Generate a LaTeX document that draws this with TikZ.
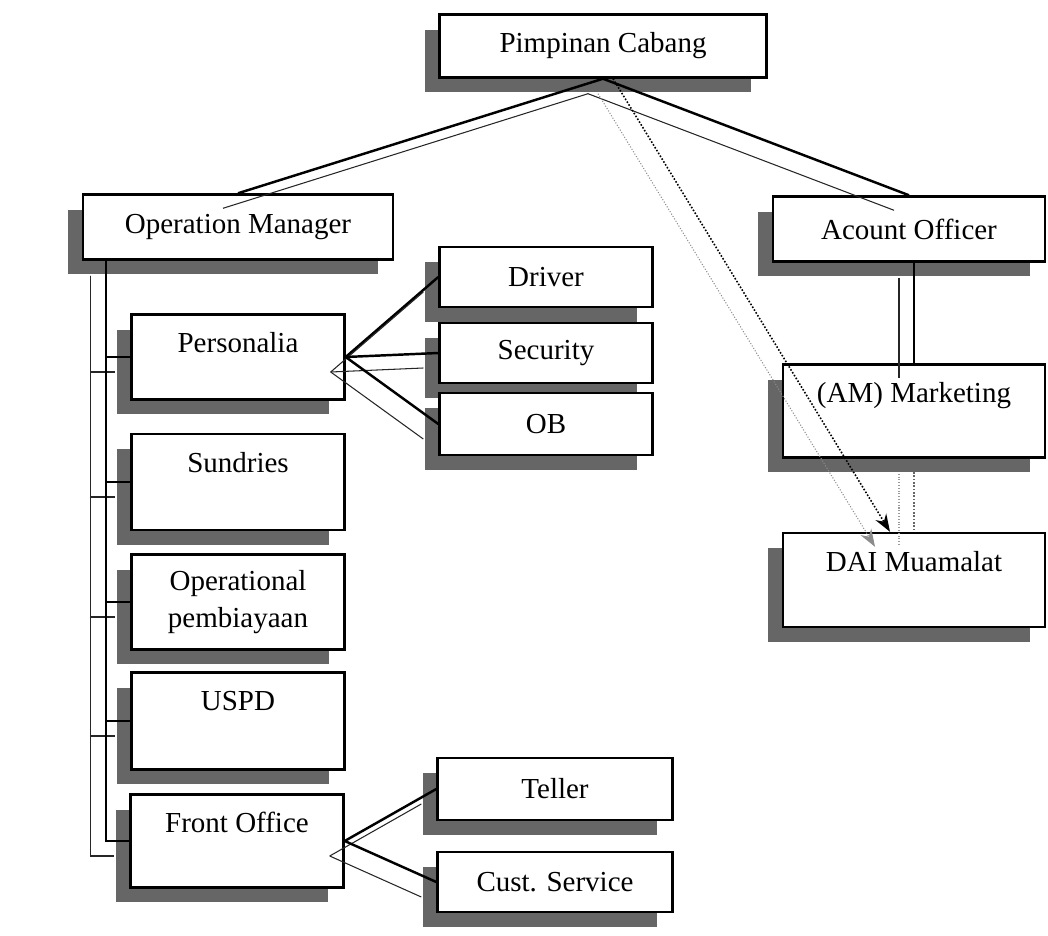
\documentclass[tikz,border=0pt]{standalone}
\usepackage{fontspec}
\setmainfont{Liberation Serif}
\usetikzlibrary{shadows, arrows.meta}
\tikzset{%
  box/.style={draw, line width=1.4pt, fill=white, inner sep=0pt, align=center,
              font=\fontsize{16.5}{21}\selectfont,
              drop shadow={shadow xshift=-0.3cm, shadow yshift=-0.3cm,
                           fill=black!60, opacity=1}},
  topbox/.style={box, text height=0.76cm, text depth=#1},
  link/.style={line width=1.4pt},
  dotlink/.style={densely dotted, line width=0.9pt},
  linkshadow/.style={black!85, line width=0.6pt,
                     transform canvas={xshift=-0.3cm, yshift=-0.3cm}},
}

\begin{document}
\begin{tikzpicture}[x=0.02cm, y=-0.02cm]
\useasboundingbox (0,0) rectangle (1048,936);

% Head of the branch
\node[box, minimum width=6.54cm, minimum height=1.26cm] (pimpinan) at (603,46) {Pimpinan Cabang};

% Second level
\node[box, minimum width=6.2cm, minimum height=1.3cm] (om) at (238,227) {Operation Manager};
\node[box, minimum width=5.44cm, minimum height=1.3cm] (ao) at (909,229) {Acount Officer};

% Units under the Operation Manager
\node[topbox=0.94cm, minimum width=4.26cm] (pers) at (238,357) {Personalia};
\node[topbox=1.16cm, minimum width=4.26cm] (sund) at (238,482) {Sundries};
\node[box, minimum width=4.26cm, minimum height=1.9cm] (oper) at (238,602) {Operational\\pembiayaan};
\node[topbox=1.18cm, minimum width=4.26cm] (uspd) at (238,721) {USPD};
\node[topbox=1.1cm, minimum width=4.26cm] (front) at (237,841) {Front Office};

% Staff of Personalia
\node[box, minimum width=4.26cm, minimum height=1.2cm] (driver) at (546,277) {Driver};
\node[box, minimum width=4.26cm, minimum height=1.2cm] (security) at (546,353) {Security};
\node[box, minimum width=4.26cm, minimum height=1.24cm] (ob) at (546,424) {OB};

% Staff of Front Office
\node[box, minimum width=4.7cm, minimum height=1.24cm] (teller) at (555,789) {Teller};
\node[box, minimum width=4.7cm, minimum height=1.2cm] (cs) at (555,882) {Cust. Service};

% Marketing side
\node[topbox=1.1cm, minimum width=5.24cm] (am) at (914,411) {(AM) Marketing};
\node[topbox=1.12cm, minimum width=5.24cm] (dai) at (914,580) {DAI Muamalat};

% Straight connectors, each with its shadow
\foreach \a/\b in {pimpinan.south/om.north, pimpinan.south/ao.north,
                   pers.east/driver.west, pers.east/security.west, pers.east/ob.west,
                   front.east/teller.west, front.east/cs.west}
{
  \draw[link] (\a) -- (\b);
  \draw[linkshadow] (\a) -- (\b);
}

% Bus down the left side
\coordinate (bus) at ([xshift=0.48cm]om.south west);
\foreach \n in {pers, sund, oper, uspd, front}
{
  \draw[link, line width=1pt] (bus) |- (\n.west);
  \draw[linkshadow] (bus) |- (\n.west);
}

% Account Officer to Marketing
\draw[link] (am.north |- ao.south) -- (am.north);
\draw[linkshadow] (am.north |- ao.south) -- (am.north);

% Marketing to DAI
\draw[dotlink, black!60] (am.south) -- (dai.north);
\draw[dotlink, linkshadow, black!40] (am.south) -- (dai.north);

% Direct line from the head to DAI
\draw[dotlink, -{Stealth[length=0.35cm, width=0.25cm]}] ([xshift=0.2cm]pimpinan.south) -- ([xshift=-0.48cm]dai.north);
\draw[dotlink, linkshadow, black!45, -{Stealth[length=0.35cm, width=0.25cm]}] ([xshift=0.2cm]pimpinan.south) -- ([xshift=-0.48cm]dai.north);

\end{tikzpicture}
\end{document}
